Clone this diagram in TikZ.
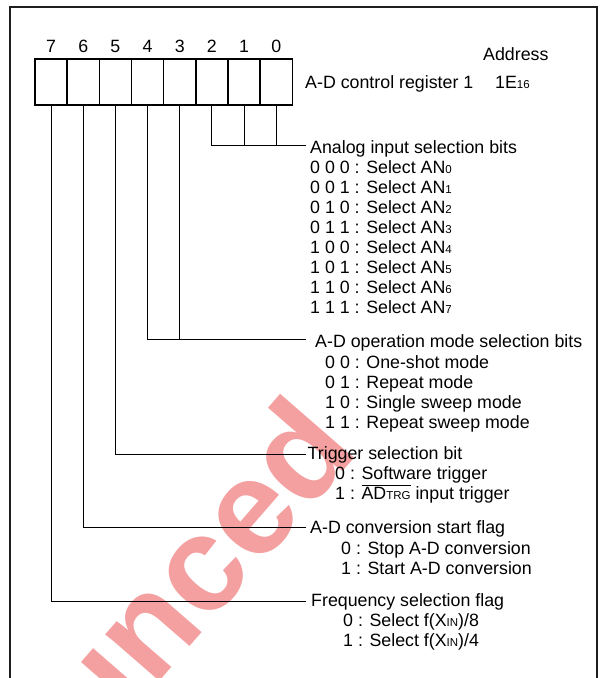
\documentclass[tikz,border=0pt]{standalone}
\usepackage{fontspec}
\setmainfont{Liberation Sans}
\newfontfamily\wmfont{Liberation Sans}
\usetikzlibrary{calc}
\definecolor{wmred}{RGB}{244,160,160}
\definecolor{framegray}{RGB}{30,30,30}
\newcommand\sbs[1]{{\fontsize{11.5}{12}\selectfont #1}}
\begin{document}
\begin{tikzpicture}[x=1pt,y=-1pt,
  txt/.style={anchor=base west,inner sep=0pt,font=\fontsize{17.8}{20}\selectfont},
  digit/.style={anchor=base,inner sep=0pt,font=\fontsize{17.8}{20}\selectfont},
  cell/.style={draw,line width=1.5pt,minimum width=32.16pt,minimum height=46pt,inner sep=0pt,outer sep=0pt},
  conn/.style={line width=1pt},
  frameline/.style={line width=2.4pt,draw=framegray}]
\useasboundingbox (0,0) rectangle (604,678);
\clip (0,0) rectangle (604,678);
\fill[white] (0,0) rectangle (604,678);
% watermark
\node[anchor=base west,inner sep=0pt,rotate=49,text=wmred,font=\wmfont\bfseries\fontsize{135}{135}\selectfont] (wm) at (99.6,751) {unced};
% frame
\draw[frameline] (10,700) -- (10,7) -- (597,7) -- (597,700);
% register cells
\foreach \b [count=\k from 0] in {7,6,5,4,3,2,1,0}{
  \node[cell] (b\b) at ({35+32.16*(\k+0.5)},82) {};
  \node[digit] (d\b) at ([yshift=6.3pt]b\b.north) {\b};
}
\node[txt] (addr) at (483,60) {Address};
\node[txt] (regname) at (305,88.3) {A-D control register 1};
\node[txt] (regaddr) at (495,88.3) {1E\sbs{16}};
% end points of the connectors
\coordinate (eA) at (305.5,145);
\coordinate (eB) at (305.5,339.3);
\coordinate (eC) at (305.5,454);
\coordinate (eD) at (305.5,527.3);
\coordinate (eE) at (305.5,601.7);
% connectors
\draw[conn] (b2.south) |- (eA);
\draw[conn] (b1.south) -- (b1.south |- eA);
\draw[conn] (b0.south) -- (b0.south |- eA);
\draw[conn] (b4.south) |- (eB);
\draw[conn] (b3.south) -- (b3.south |- eB);
\draw[conn] (b5.south) |- (eC);
\draw[conn] (b6.south) |- (eD);
\draw[conn] (b7.south) |- (eE);
% analog input selection
\node[txt] (hA) at (310,153.4) {Analog input selection bits};
\foreach \c [count=\k from 0] in {0 0 0,0 0 1,0 1 0,0 1 1,1 0 0,1 0 1,1 1 0,1 1 1}{
  \node[txt] (a\k) at (310,{173.5+20*\k}) {\c{} : Select AN\sbs{\k}};
}
% operation mode
\node[txt] (hB) at (315,347.5) {A-D operation mode selection bits};
\node[txt] (m0) at (325,368) {0 0 : One-shot mode};
\node[txt] (m1) at (325,388) {0 1 : Repeat mode};
\node[txt] (m2) at (325,408) {1 0 : Single sweep mode};
\node[txt] (m3) at (325,428) {1 1 : Repeat sweep mode};
% trigger
\node[txt] (hC) at (307.5,459.3) {Trigger selection bit};
\node[txt] (t0) at (335,479) {0 : Software trigger};
\node[txt] (t1) at (335,499) {1 : $\overline{\mbox{AD\sbs{TRG}}}$ input trigger};
% conversion start
\node[txt] (hD) at (310,533.6) {A-D conversion start flag};
\node[txt] (s0) at (341,554.5) {0 : Stop A-D conversion};
\node[txt] (s1) at (341,574.5) {1 : Start A-D conversion};
% frequency
\node[txt] (hE) at (311,606.5) {Frequency selection flag};
\node[txt] (f0) at (343,626.5) {0 : Select f(X\sbs{IN})/8};
\node[txt] (f1) at (343,646.5) {1 : Select f(X\sbs{IN})/4};
\end{tikzpicture}
\end{document}
